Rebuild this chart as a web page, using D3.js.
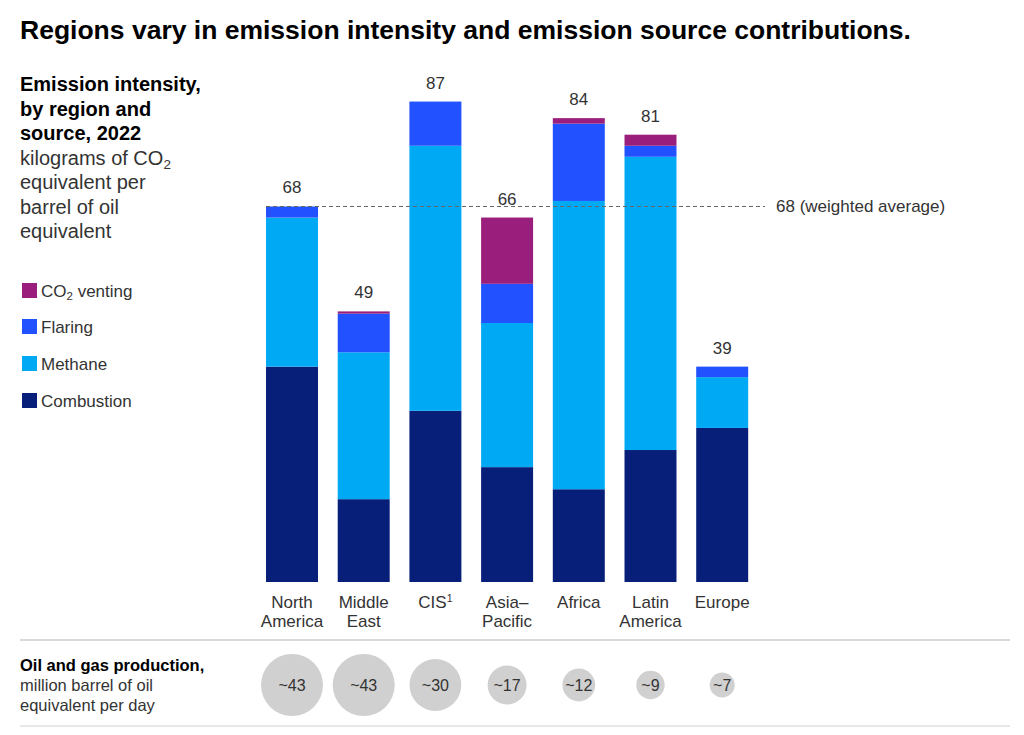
<!DOCTYPE html>
<html><head><meta charset="utf-8">
<script src="https://cdn.jsdelivr.net/npm/d3@7"></script>
<style>
body{margin:0;background:#fff;}
text{font-family:"Liberation Sans",Arial,sans-serif;}
</style></head>
<body><svg id="c" width="1024" height="735"></svg>
<script>
const regions = ["North America","Middle East","CIS","Asia–Pacific","Africa","Latin America","Europe"];
const regionLines = [["North","America"],["Middle","East"],["CIS"],["Asia–","Pacific"],["Africa"],["Latin","America"],["Europe"]];
const combustion = [39, 15, 31, 20.8, 16.8, 23.9, 27.9];
const methane    = [27, 26.6, 48, 26.1, 52.2, 53.1, 9.2];
const flaring    = [2, 7, 8, 7.1, 14, 2, 1.9];
const venting    = [0, 0.4, 0, 12, 1, 2, 0];
const totals     = [68, 49, 87, 66, 84, 81, 39];
const production = [43, 43, 30, 17, 12, 9, 7];
const weightedAverage = 68;

const seriesKeys = ["combustion","methane","flaring","venting"];
const colors = {combustion:"#081f79", methane:"#00a9f4", flaring:"#2251ff", venting:"#9a1f7c"};
const legendItems = [["venting","CO2 venting"],["flaring","Flaring"],["methane","Methane"],["combustion","Combustion"]];

const svg = d3.select("#c");
const table = regions.map((r,i)=>({region:r, combustion:combustion[i], methane:methane[i], flaring:flaring[i], venting:venting[i]}));
const stack = d3.stack().keys(seriesKeys)(table);

const x = d3.scaleBand().domain(regions).range([246.3, 767.9]).paddingInner(0.275).paddingOuter(0.275);
const y = d3.scaleLinear().domain([0, 90]).range([582, 85]);

// title
svg.append("text").attr("x",20).attr("y",39).attr("font-size",26.5).attr("font-weight",700)
  .attr("fill","#000")
  .text("Regions vary in emission intensity and emission source contributions.");

// left subtitle
const boldLines = ["Emission intensity,","by region and","source, 2022"];
boldLines.forEach((t,i)=>svg.append("text").attr("x",20).attr("y",91+i*24.5).attr("font-size",20).attr("font-weight",700).attr("fill","#000").text(t));
const sub = svg.append("text").attr("x",20).attr("y",164.5).attr("font-size",20).attr("fill","#333");
sub.append("tspan").text("kilograms of CO");
sub.append("tspan").attr("font-size",13.5).attr("dy",4).text("2");
["equivalent per","barrel of oil","equivalent"].forEach((t,i)=>svg.append("text").attr("x",20).attr("y",189+i*24.5).attr("font-size",20).attr("fill","#333").text(t));

// legend
const legY = [291, 327, 364, 401];
legendItems.forEach(([k,label],i)=>{
  svg.append("rect").attr("x",22).attr("y",legY[i]-8).attr("width",15).attr("height",15).attr("fill",colors[k]);
  const t = svg.append("text").attr("x",41).attr("y",legY[i]+6).attr("font-size",17).attr("fill","#333");
  if(k==="venting"){
    t.append("tspan").text("CO");
    t.append("tspan").attr("font-size",11.5).attr("dy",3).text("2");
    t.append("tspan").attr("dy",-3).text(" venting");
  } else t.text(label);
});

// bars
svg.append("g").selectAll("g").data(stack).join("g").attr("fill",d=>colors[d.key])
  .selectAll("rect").data(d=>d).join("rect")
  .attr("x",d=>x(d.data.region)).attr("width",x.bandwidth())
  .attr("y",d=>y(d[1])).attr("height",d=>Math.max(0,y(d[0])-y(d[1])));

// weighted average line
svg.append("line").attr("x1",x(regions[0])).attr("x2",765).attr("y1",y(weightedAverage)).attr("y2",y(weightedAverage))
  .attr("stroke","#666").attr("stroke-width",1).attr("stroke-dasharray","4,3");
svg.append("text").attr("x",776).attr("y",y(weightedAverage)+6).attr("font-size",17).attr("fill","#333").text(weightedAverage+" (weighted average)");

// totals
regions.forEach((r,i)=>{
  svg.append("text").attr("x",x(r)+x.bandwidth()/2).attr("y",y(totals[i])-13).attr("text-anchor","middle")
    .attr("font-size",17).attr("fill","#333").text(totals[i]);
});

// category labels
regions.forEach((r,i)=>{
  regionLines[i].forEach((ln,j)=>{
    const t = svg.append("text").attr("x",x(r)+x.bandwidth()/2).attr("y",608+j*19).attr("text-anchor","middle")
      .attr("font-size",17).attr("fill","#333");
    if(ln==="CIS"){ t.append("tspan").text("CIS"); t.append("tspan").attr("font-size",10.5).attr("dy",-6).text("1"); }
    else t.text(ln);
  });
});

// separators
svg.append("line").attr("x1",20).attr("x2",1010).attr("y1",640).attr("y2",640).attr("stroke","#b5b5b5").attr("stroke-width",1);
svg.append("line").attr("x1",20).attr("x2",1010).attr("y1",726).attr("y2",726).attr("stroke","#d0d0d0").attr("stroke-width",1);

// production section
svg.append("text").attr("x",20).attr("y",671).attr("font-size",16.5).attr("font-weight",700).attr("fill","#000").text("Oil and gas production,");
svg.append("text").attr("x",20).attr("y",691).attr("font-size",16.5).attr("fill","#333").text("million barrel of oil");
svg.append("text").attr("x",20).attr("y",711).attr("font-size",16.5).attr("fill","#333").text("equivalent per day");

const r = d3.scaleSqrt().domain([0,43]).range([0,31]);
regions.forEach((reg,i)=>{
  const cx = x(reg)+x.bandwidth()/2;
  svg.append("circle").attr("cx",cx).attr("cy",685).attr("r",r(production[i])).attr("fill","#d0d0d0");
  svg.append("text").attr("x",cx).attr("y",691).attr("text-anchor","middle").attr("font-size",16).attr("fill","#333").text("~"+production[i]);
});
</script></body></html>
